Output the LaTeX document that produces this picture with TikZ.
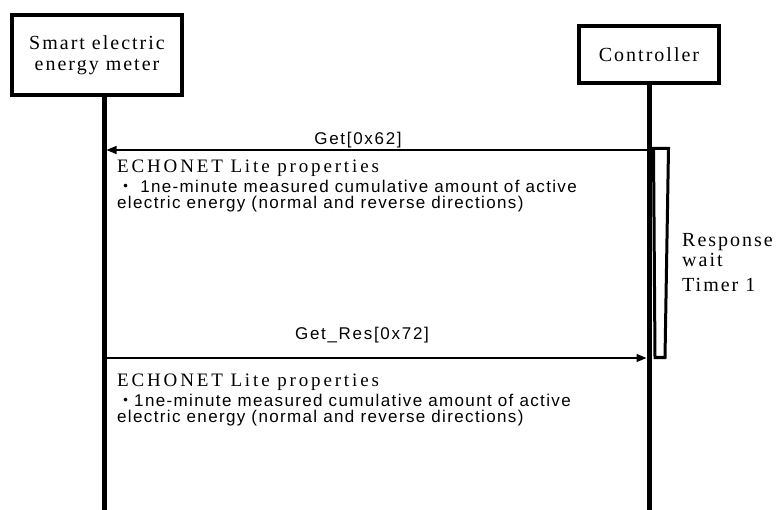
\documentclass[tikz,border=0pt]{standalone}
\usepackage{fontspec}
\setmainfont{Liberation Serif}
\setsansfont{Liberation Sans}
\newfontfamily\cjk{Noto Sans CJK JP}
\usetikzlibrary{arrows.meta}

\begin{document}
\begin{tikzpicture}[x=1pt,y=-1pt,>={Triangle[length=10pt,width=8pt]}, line join=miter,
    actor/.style={draw,line width=4.5pt,inner sep=0pt,align=center,
        font=\fontsize{20}{20.5}\selectfont\addfontfeature{LetterSpace=10}},
    lifeline/.style={line width=5pt},
    msg/.style={->,line width=1.3pt},
    msglabel/.style={anchor=base,inner sep=0pt,
        font=\sffamily\fontsize{17}{17}\selectfont\addfontfeature{LetterSpace=10}},
    proptitle/.style={anchor=base west,inner sep=0pt,
        font=\fontsize{19}{19}\selectfont\addfontfeature{LetterSpace=15}},
    propbody/.style={anchor=base west,inner sep=0pt,
        font=\sffamily\fontsize{17}{17}\selectfont\addfontfeature{LetterSpace=8}},
    timerlabel/.style={anchor=base west,inner sep=0pt,
        font=\fontsize{20}{20}\selectfont\addfontfeature{LetterSpace=10}}]
    \def\xmax{776} \def\ymax{510}
    \def\xm{104} \def\xc{649}
    \useasboundingbox (0,0) rectangle (\xmax,\ymax);
    % actors
    \node[actor,minimum width=170pt,minimum height=80pt] (meter) at (97,55) {Smart electric\\energy meter};
    \node[actor,minimum width=140pt,minimum height=57pt] (ctrl) at (\xc,54.5) {Controller};
    \coordinate (meterEnd) at (\xm,\ymax);
    \coordinate (ctrlEnd) at (\xc,\ymax);
    \draw[lifeline] (meter.south -| meterEnd) -- (meterEnd);
    \draw[lifeline] (ctrl.south) -- (ctrlEnd);
    % response wait timer
    \draw[line width=3pt] (653.5,148.5) -- (668.5,148.5) -- (665,357.5) -- (655,357.5) -- cycle;
    \node[timerlabel] (respA) at (682,247) {Response};
    \node[timerlabel] (respB) at (682,267) {wait};
    \node[timerlabel] (respC) at (682,292) {Timer 1};
    % Get
    \coordinate (getFrom) at (\xc,150);
    \coordinate (getTo) at (106.5,150);
    \draw[msg] (getFrom) -- (getTo);
    \node[msglabel] (getLbl) at (358,145) {Get[0x62]};
    \node[proptitle] (getTtl) at (117,173) {ECHONET Lite properties};
    \node[propbody] (getBodyA) at (117,193) {{\cjk ・} 1ne-minute measured cumulative amount of active};
    \node[propbody] (getBodyB) at (117,209) {electric energy (normal and reverse directions)};
    % Get_Res
    \coordinate (resFrom) at (\xm,358);
    \coordinate (resTo) at (646.5,358);
    \draw[msg] (resFrom) -- (resTo);
    \node[msglabel] (resLbl) at (362,340) {Get\_Res[0x72]};
    \node[proptitle] (resTtl) at (117,386) {ECHONET Lite properties};
    \node[propbody] (resBodyA) at (117,406) {{\cjk ・}1ne-minute measured cumulative amount of active};
    \node[propbody] (resBodyB) at (117,422) {electric energy (normal and reverse directions)};
\end{tikzpicture}
\end{document}
